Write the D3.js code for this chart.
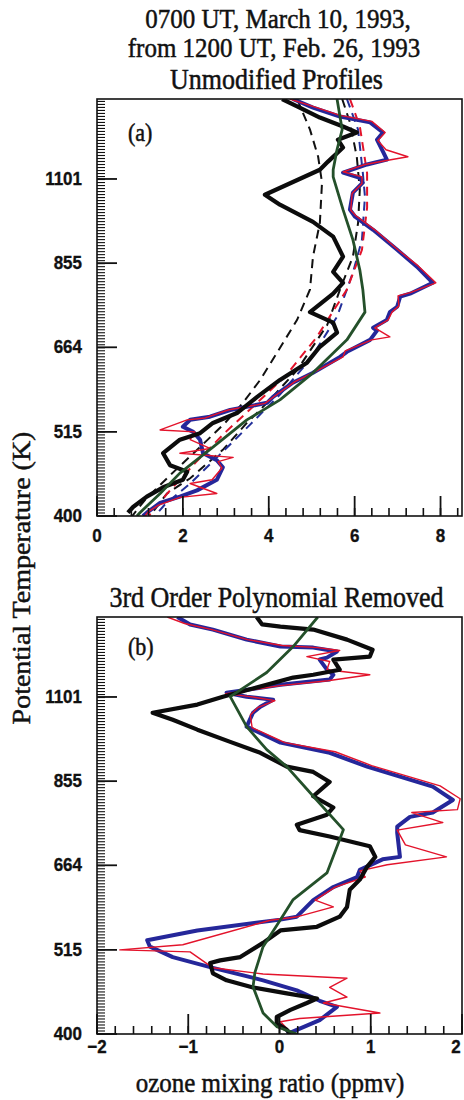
<!DOCTYPE html>
<html>
<head>
<meta charset="utf-8">
<script src="https://cdn.jsdelivr.net/npm/d3@7/dist/d3.min.js"></script>
<style>
  html, body { margin: 0; padding: 0; background: #ffffff; }
  svg { display: block; }
</style>
</head>
<body>
<svg id="chart" width="464" height="1100"></svg>
<script>
// ---- axis ticks ----
const thetaTicks = [400, 515, 664, 855, 1101];
const xTicksA = [0, 2, 4, 6, 8];
const xTicksB = [-2, -1, 0, 1, 2];

// ---- panel (a): unmodified profiles, [ozone ppmv, potential temperature K] ----
const observedA = [
  [4.31,1400],[4.66,1369],[5.19,1324],[5.73,1289],[6.05,1266],[5.61,1239],[5.73,1210],
  [5.38,1160],[5.19,1132],[3.91,1050],[4.26,1019],[5.03,968],[5.50,926],[5.73,872],
  [5.50,833],[5.73,806],[5.50,780],[4.96,738],[5.50,715],[5.59,694],[5.19,665],
  [4.89,634],[4.26,602],[3.73,572],[3.26,545],[2.70,529],[2.40,513],[1.93,503],
  [1.54,483],[1.70,466],[2.10,457],[2.00,446],[1.54,436],[1.16,424],[0.84,411],[0.72,404]
];
const calcBlueA = [
  [4.56,1400],[5.03,1364],[5.66,1328],[6.36,1305],[6.66,1266],[6.52,1239],[6.66,1195],
  [6.75,1167],[6.29,1150],[5.73,1122],[6.12,1105],[6.19,1089],[5.96,1057],[5.89,1004],
  [6.01,983],[6.43,945],[6.99,890],[7.45,846],[7.82,806],[7.29,780],[7.06,773],[6.99,750],
  [6.82,738],[6.75,721],[6.43,704],[6.52,698],[6.36,679],[5.82,655],[5.66,645],[5.03,615],
  [4.56,597],[4.10,572],[3.96,562],[3.10,550],[2.63,539],[2.17,534],[2.00,523],[2.24,515],
  [2.40,503],[2.47,483],[2.79,473],[2.93,463],[2.79,446],[2.33,432],[1.93,424],[1.47,416],
  [1.16,404],[1.07,400]
];
const calcRedA = [
  [4.49,1400],[5.03,1369],[5.66,1333],[6.40,1309],[6.71,1266],[6.54,1236],[6.73,1202],
  [7.24,1177],[6.71,1163],[6.24,1150],[5.73,1125],[6.17,1108],[6.17,1086],[5.94,1054],
  [5.91,1002],[6.03,986],[6.47,945],[7.01,890],[7.48,848],[7.89,806],[7.31,783],[7.01,775],
  [7.03,752],[6.87,738],[6.78,721],[6.47,704],[6.82,685],[6.40,679],[5.78,657],[5.73,645],
  [5.08,617],[4.61,599],[4.15,574],[3.91,561],[3.05,550],[2.52,537],[2.10,534],[1.47,518],
  [2.28,515],[2.17,503],[2.63,490],[1.93,483],[3.17,477],[2.82,471],[2.91,462],[2.68,446],
  [2.17,441],[2.79,428],[1.93,423],[1.42,413],[1.19,405],[1.12,400]
];
const smoothGreenA = [
  [5.59,1400],[5.71,1277],[5.59,1203],[5.50,1132],[5.50,1108],[5.73,1004],[5.96,917],
  [6.12,838],[6.19,790],[6.24,738],[5.82,679],[5.03,615],[4.26,567],[3.49,534],[2.70,492],
  [1.93,455],[1.47,428],[1.00,404],[0.93,400]
];
const dashBlackLeftA = [
  [4.66,1400],[4.96,1277],[5.15,1177],[5.24,1089],[5.19,965],[5.03,872],[4.96,790],
  [4.66,721],[4.19,653],[3.80,602],[3.40,562],[2.98,529],[2.40,492],[1.70,452],[1.12,420],[0.82,400]
];
const dashBlackRightA = [
  [5.71,1400],[5.89,1305],[6.05,1177],[6.12,1066],[6.08,965],[5.96,872],[5.66,790],
  [5.36,710],[4.66,620],[3.96,562],[3.49,529],[2.93,488],[2.17,448],[1.63,428],[1.23,400]
];
const dashBlueA = [
  [5.82,1400],[6.08,1277],[6.19,1122],[6.24,1044],[6.17,917],[5.96,831],[5.59,728],
  [4.96,640],[4.26,576],[3.56,526],[2.86,481],[2.17,441],[1.58,414],[1.35,400]
];
const dashRedA = [
  [5.89,1400],[6.12,1290],[6.29,1120],[6.29,1010],[6.17,890],[5.82,790],[5.12,685],
  [4.40,610],[3.70,560],[3.00,515],[2.30,470],[1.70,432],[1.20,400]
];

// ---- panel (b): 3rd order polynomial removed ----
const observedB = [
  [-0.25,1400],[-0.19,1369],[0.01,1360],[0.37,1348],[0.74,1308],[1.02,1269],[0.99,1243],
  [0.59,1232],[0.66,1195],[0.37,1177],[0.15,1167],[-0.62,1102],[-0.90,1076],[-1.39,1050],
  [-1.17,1028],[-0.90,998],[-0.54,962],[-0.21,931],[0.08,893],[0.37,879],[0.55,853],
  [0.37,817],[0.59,790],[0.52,773],[0.19,750],[0.22,738],[0.55,724],[0.99,703],[1.05,681],
  [0.96,661],[0.88,636],[0.77,617],[0.74,586],[0.66,569],[0.41,552],[0.01,546],[-0.18,526],
  [-0.43,504],[-0.65,499],[-0.76,495],[-0.73,480],[-0.58,470],[-0.29,460],[0.08,452],
  [0.41,445],[0.30,439],[0.12,430],[-0.03,421],[-0.03,413],[0.08,405],[0.12,400]
];
const calcBlueB = [
  [-1.12,1400],[-0.98,1369],[-0.73,1348],[-0.36,1308],[0.01,1281],[0.37,1277],[0.63,1262],
  [0.52,1239],[0.44,1232],[0.52,1195],[0.59,1177],[0.55,1160],[0.01,1142],[-0.58,1115],
  [-0.36,1102],[-0.07,1092],[-0.21,1069],[-0.29,1050],[-0.36,1007],[0.01,960],[0.55,931],
  [0.96,893],[1.68,841],[1.90,808],[1.68,778],[1.43,768],[1.29,746],[1.29,732],[1.32,681],
  [1.13,676],[0.88,655],[0.85,641],[0.59,622],[0.37,598],[0.19,569],[0.01,564],[-0.90,546],
  [-1.45,530],[-1.42,520],[-1.17,504],[-0.73,488],[-0.18,470],[0.19,456],[0.44,442],
  [0.63,434],[0.44,417],[0.19,405],[0.08,400]
];
const calcRedB = [
  [-1.23,1400],[-1.04,1373],[-0.74,1348],[-0.35,1308],[0.03,1285],[0.42,1277],[0.66,1266],
  [0.30,1243],[0.55,1225],[0.52,1195],[0.99,1177],[0.53,1156],[0.01,1139],[-0.59,1112],
  [-0.32,1102],[-0.05,1089],[-0.24,1066],[-0.32,1043],[-0.30,1004],[0.06,960],[0.61,934],
  [1.01,896],[1.76,843],[1.98,811],[1.95,785],[1.45,778],[1.79,755],[1.29,738],[1.38,706],
  [1.83,681],[1.18,665],[0.88,653],[0.94,641],[0.61,622],[0.39,598],[0.59,586],[0.20,569],
  [-0.10,563],[-1.06,523],[-1.75,515],[-0.98,512],[-0.73,488],[-0.18,479],[0.74,473],
  [0.55,460],[0.74,447],[0.48,439],[1.10,426],[0.22,419],[0.01,415],[0.14,400]
];
const smoothGreenB = [
  [0.42,1400],[0.15,1281],[-0.14,1185],[-0.54,1102],[-0.36,1007],[-0.14,940],[0.08,893],
  [0.37,817],[0.70,739],[0.52,649],[0.15,599],[0.01,564],[-0.18,520],[-0.27,481],
  [-0.29,461],[-0.18,426],[-0.03,409],[0.19,400]
];

// ---- layout ----
const left = 97, right = 462;
const panels = [
  { id: "a", top: 99, bottom: 516, xDomain: [0, 8.5], xTicks: xTicksA, minorStep: 0.4,
    title: "Unmodified Profiles", titleY: 89, tag: "(a)", tagY: 141, labelDy: 26,
    dashed: [[dashBlackLeftA, "#111"], [dashBlackRightA, "#111"], [dashBlueA, "#23309a"], [dashRedA, "#e3132b"]],
    blue: calcBlueA, red: calcRedA, black: observedA, green: smoothGreenA, fmt: d => String(d) },
  { id: "b", top: 617, bottom: 1034, xDomain: [-2, 2], xTicks: xTicksB, minorStep: 0.2,
    title: "3rd Order Polynomial Removed", titleY: 607, tag: "(b)", tagY: 655, labelDy: 19,
    dashed: [],
    blue: calcBlueB, red: calcRedB, black: observedB, green: smoothGreenB,
    fmt: d => (d < 0 ? "\u2212" + Math.abs(d) : String(d)) }
];

const svg = d3.select("#chart");
const serif = "'Liberation Serif', 'Times New Roman', serif";
const sans = "'Liberation Sans', Arial, sans-serif";
const vStretch = 1.12;

// text with a slight vertical stretch and a thin same-colour outline for weight
function stretchedText(x, y, txt, size, opts = {}) {
  const g = svg.append("g").attr("transform", `translate(${x},${y}) scale(1,${vStretch})`);
  return g.append("text")
    .attr("text-anchor", opts.anchor || "middle")
    .attr("font-family", opts.family || serif)
    .attr("font-size", size)
    .attr("font-weight", opts.weight || "normal")
    .attr("fill", "#111")
    .attr("stroke", "#111")
    .attr("stroke-width", opts.outline == null ? 0.45 : opts.outline)
    .text(txt);
}

// headline
stretchedText(278, 28, "0700 UT, March 10, 1993,", 25);
stretchedText(274, 57, "from 1200 UT, Feb. 26, 1993", 25);

// shared y-axis title
svg.append("g")
  .attr("transform", `translate(30,578) scale(1,${vStretch}) rotate(-90)`)
  .append("text")
  .attr("text-anchor", "middle")
  .attr("font-family", serif)
  .attr("font-size", 25)
  .attr("fill", "#111")
  .attr("stroke", "#111")
  .attr("stroke-width", 0.45)
  .text("Potential Temperature (K)");

// x-axis title
stretchedText(270, 1092, "ozone mixing ratio (ppmv)", 25);

panels.forEach(p => {
  const x = d3.scaleLinear().domain(p.xDomain).range([left, right]);
  const y = d3.scaleLog().domain([400, 1400]).range([p.bottom, p.top]);
  const line = d3.line().x(d => x(d[0])).y(d => y(d[1]));

  stretchedText((left + right) / 2 - 3, p.titleY, p.title, 26);

  const clipId = "clip-" + p.id;
  svg.append("clipPath").attr("id", clipId)
    .append("rect").attr("x", left).attr("y", p.top)
    .attr("width", right - left).attr("height", p.bottom - p.top);

  const plot = svg.append("g").attr("clip-path", `url(#${clipId})`);

  p.dashed.forEach(([data, color]) => {
    plot.append("path").datum(data).attr("d", line)
      .attr("fill", "none").attr("stroke", color).attr("stroke-width", 2)
      .attr("stroke-dasharray", "9,6");
  });
  plot.append("path").datum(p.blue).attr("d", line)
    .attr("fill", "none").attr("stroke", "#25279a").attr("stroke-width", 4)
    .attr("stroke-linejoin", "round");
  plot.append("path").datum(p.red).attr("d", line)
    .attr("fill", "none").attr("stroke", "#e3132b").attr("stroke-width", 1.4)
    .attr("stroke-linejoin", "round");
  plot.append("path").datum(p.black).attr("d", line)
    .attr("fill", "none").attr("stroke", "#0c0c0c").attr("stroke-width", 4.2)
    .attr("stroke-linejoin", "round");
  plot.append("path").datum(p.green).attr("d", line)
    .attr("fill", "none").attr("stroke", "#24502a").attr("stroke-width", 2.8)
    .attr("stroke-linejoin", "round");

  // frame
  svg.append("rect").attr("x", left).attr("y", p.top)
    .attr("width", right - left).attr("height", p.bottom - p.top)
    .attr("fill", "none").attr("stroke", "#111").attr("stroke-width", 1.6);

  // x ticks: minor and major, drawn inward from the bottom axis
  const minor = d3.range(p.xDomain[0], p.xDomain[1] + 1e-9, p.minorStep);
  svg.append("g").selectAll("line").data(minor).join("line")
    .attr("x1", d => x(d)).attr("x2", d => x(d))
    .attr("y1", p.bottom).attr("y2", p.bottom - 8)
    .attr("stroke", "#111").attr("stroke-width", 1.6);
  svg.append("g").selectAll("line").data(p.xTicks).join("line")
    .attr("x1", d => x(d)).attr("x2", d => x(d))
    .attr("y1", p.bottom).attr("y2", p.bottom - 20)
    .attr("stroke", "#111").attr("stroke-width", 1.8);
  p.xTicks.forEach(t => {
    // keep the last label inside the page edge
    const cx = Math.min(x(t), 456);
    stretchedText(cx, p.bottom + p.labelDy, p.fmt(t), 17, { family: sans, weight: "bold", outline: 0.3 });
  });

  // y ticks: dense minor ticks evenly spaced in log theta, major ticks at labels
  const lo = Math.log(400), hi = Math.log(1400);
  const step = Math.log(515 / 400) / 28;
  const yMinor = d3.range(lo, hi + 1e-9, step).map(Math.exp);
  svg.append("g").selectAll("line").data(yMinor).join("line")
    .attr("x1", left).attr("x2", left + 8)
    .attr("y1", d => y(d)).attr("y2", d => y(d))
    .attr("stroke", "#111").attr("stroke-width", 1.1);
  svg.append("g").selectAll("line").data(thetaTicks).join("line")
    .attr("x1", left).attr("x2", left + 20)
    .attr("y1", d => y(d)).attr("y2", d => y(d))
    .attr("stroke", "#111").attr("stroke-width", 1.8);
  thetaTicks.forEach(t => {
    stretchedText(82, y(t) + 6, String(t), 17, { family: sans, weight: "bold", anchor: "end", outline: 0.3 });
  });

  stretchedText(128, p.tagY, p.tag, 22, { anchor: "start" });
});
</script>
</body>
</html>
